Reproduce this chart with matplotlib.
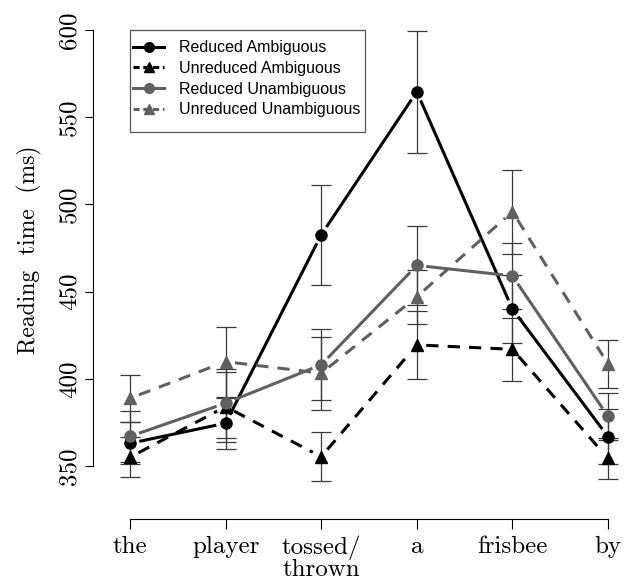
import matplotlib
matplotlib.use("Agg")
import matplotlib.pyplot as plt
import numpy as np
from matplotlib.lines import Line2D
from matplotlib.patches import Rectangle

words = ["the", "player", "tossed/\nthrown", "a", "frisbee", "by"]
red_amb = [363, 374.5, 482.5, 564.6, 440, 366.8]
red_amb_err = [12, 14.6, 28.5, 35, 19.5, 15.8]
unred_amb = [355, 384, 355.3, 419.4, 416.9, 354.4]
unred_amb_err = [11.6, 20, 14, 19.6, 18.2, 11.7]
red_unamb = [367, 386, 408, 465, 459, 378.5]
red_unamb_err = [14.8, 19.8, 20.3, 22.5, 19, 13.4]
unred_unamb = [388.8, 409.8, 403.2, 447, 495.8, 408.5]
unred_unamb_err = [13.6, 20, 21, 15.5, 24, 14]
yticks = [350, 400, 450, 500, 550, 600]

BLACK = "#000000"; GREY = "#606060"; EBAR = "#3a3a3a"
SERIF = "cmr10"

fig = plt.figure(figsize=(6.27, 5.86), dpi=100)
ax = fig.add_axes([93/627, 1-519/586, 532/627, 499/586])
ax.set_xlim(-0.387, 5.178)
ax.set_ylim(319.6, 605.7)
x = np.arange(len(words))

series = [
    ("Reduced Ambiguous", red_amb, red_amb_err, BLACK, "-", "o"),
    ("Unreduced Ambiguous", unred_amb, unred_amb_err, BLACK, "--", "^"),
    ("Reduced Unambiguous", red_unamb, red_unamb_err, GREY, "-", "o"),
    ("Unreduced Unambiguous", unred_unamb, unred_unamb_err, GREY, "--", "^"),
]

def gapped(xs, ys, gap, **kw):
    # R type="b": lines stop short of the points
    pts = ax.transData.transform(np.column_stack([xs, ys]))
    inv = ax.transData.inverted()
    for p, q in zip(pts[:-1], pts[1:]):
        d = q - p
        u = d / np.hypot(*d)
        seg = inv.transform(np.array([p + u*gap, q - u*gap]))
        ax.plot(seg[:, 0], seg[:, 1], **kw)

handles = []
for lab, vals, err, col, ls, mk in series:
    ax.errorbar(x, vals, yerr=err, fmt="none", ecolor=EBAR, elinewidth=0.9,
                capsize=7, capthick=0.9, zorder=2)
for lab, vals, err, col, ls, mk in series:
    kw = dict(color=col, lw=2.2, solid_capstyle="butt", zorder=3)
    if ls == "--":
        kw["dashes"] = (4, 3)
    gapped(x, vals, 9.5, **kw)
    ax.plot(x, vals, ls="none", marker=mk, ms=8, color=col, mec=col, zorder=4)
    hk = dict(color=col, lw=2.2, marker=mk, ms=7, mec=col)
    if ls == "--":
        hk["dashes"] = (2, 1.2)
    handles.append(Line2D([], [], label=lab, **hk))

for s in ["top", "right"]:
    ax.spines[s].set_visible(False)
ax.spines["left"].set_bounds(350, 600)
ax.spines["bottom"].set_bounds(0, 5)
for s in ["left", "bottom"]:
    ax.spines[s].set_linewidth(0.8)

ax.set_yticks(yticks)
ax.set_yticklabels([str(t) for t in yticks], rotation=90, va="center",
                   fontfamily=SERIF, fontsize=18)
ax.set_xticks(x)
ax.set_xticklabels(words, fontfamily=SERIF, fontsize=18, linespacing=0.95)
ax.tick_params(axis="y", length=6, width=0.8, pad=3)
ax.tick_params(axis="x", length=7, width=0.8, pad=5)
ax.set_ylabel("Reading  time  (ms)", fontfamily=SERIF, fontsize=17)
ax.yaxis.label.set_va("center")
ax.yaxis.set_label_coords(-0.12, 0.539)

leg = ax.legend(handles=handles, loc="upper left", bbox_to_anchor=(0.0695, 0.966),
                borderaxespad=0, frameon=False,
                prop={"family": "Liberation Sans", "size": 11.5},
                handlelength=1.95, handletextpad=0.95, labelspacing=0.36,
                borderpad=0.2)
ax.add_patch(Rectangle((0.0695, 0.7756), 0.511-0.0695, 0.98-0.7756,
                       transform=ax.transAxes, fill=False, ec="#555555",
                       lw=0.9, clip_on=False, zorder=5))

fig.savefig("out.png", dpi=100, facecolor="white")
